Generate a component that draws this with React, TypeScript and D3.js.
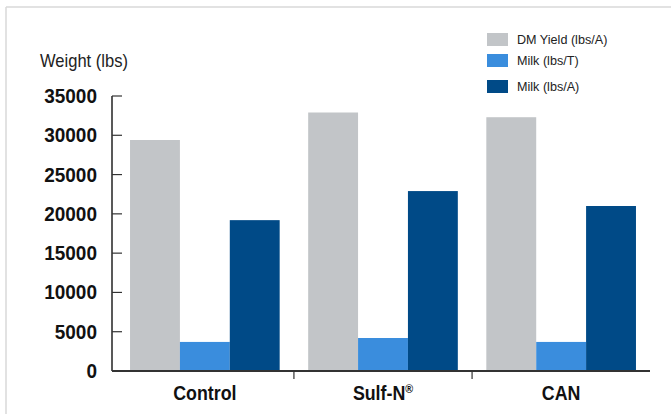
import React from "react";
import * as d3 from "d3";

const categories = ["Control", "Sulf-N®", "CAN"];
const seriesNames = ["DM Yield (lbs/A)", "Milk (lbs/T)", "Milk (lbs/A)"];
const dmYield = [29400, 32900, 32300];
const milkPerTon = [3700, 4200, 3700];
const milkPerAcre = [19200, 22900, 21000];
const yTicks = [0, 5000, 10000, 15000, 20000, 25000, 30000, 35000];
const colors = ["#c2c5c8", "#3a8ddd", "#004a87"];

const W = 671;
const H = 414;
const FONT = "'Liberation Sans Narrow', 'Arial Narrow', 'Liberation Sans', Arial, sans-serif";

export default function App() {
  const series = [dmYield, milkPerTon, milkPerAcre];
  const x0 = d3.scaleBand<string>().domain(categories).range([114, 652]).paddingInner(0.16).paddingOuter(0.09);
  const x1 = d3.scaleBand<number>().domain([0, 1, 2]).range([0, x0.bandwidth()]).padding(0);
  const y = d3.scaleLinear().domain([0, 35000]).range([371, 96]);
  const axisX = 112;
  const axisRight = 650;
  const sepTicks = categories.slice(1).map((c, i) => {
    const prevEnd = (x0(categories[i]) as number) + x0.bandwidth();
    const nextStart = x0(c) as number;
    return (prevEnd + nextStart) / 2;
  });

  return (
    <svg width={W} height={H} style={{ position: "absolute", left: 0, top: 0, display: "block" }}>
      <rect x={0} y={0} width={W} height={H} fill="#ffffff" />
      {/* frame */}
      <line x1={6} y1={7} x2={W} y2={7} stroke="#d9d9d9" strokeWidth={1.5} />
      <line x1={6} y1={7} x2={6} y2={H} stroke="#d9d9d9" strokeWidth={1.5} />

      {/* bars */}
      {categories.map((c, ci) => (
        <g key={c} transform={`translate(${x0(c)},0)`}>
          {series.map((s, si) => (
            <rect
              key={si}
              x={x1(si) as number}
              y={y(s[ci])}
              width={x1.bandwidth()}
              height={y(0) - y(s[ci])}
              fill={colors[si]}
            />
          ))}
        </g>
      ))}

      {/* y axis */}
      <line x1={axisX} y1={y(35000)} x2={axisX} y2={y(0)} stroke="#222" strokeWidth={1.5} />
      {yTicks.map((t) => (
        <g key={t}>
          {t > 0 && <line x1={axisX} x2={axisX + 10} y1={y(t)} y2={y(t)} stroke="#333" strokeWidth={1.2} />}
          <text
            transform={`translate(97,${y(t) + 7}) scale(0.95,1)`}
            textAnchor="end"
            fontFamily={FONT}
            fontWeight="bold"
            fontSize={20}
            fill="#111"
          >
            {t}
          </text>
        </g>
      ))}
      <text transform="translate(40,67) scale(0.92,1)" fontFamily={FONT} fontSize={18} fill="#222">
        Weight (lbs)
      </text>

      {/* x axis */}
      <line x1={axisX} y1={y(0)} x2={axisRight} y2={y(0)} stroke="#333" strokeWidth={2} />
      {sepTicks.map((t, i) => (
        <line key={i} x1={t} x2={t} y1={y(0)} y2={y(0) + 8} stroke="#333" strokeWidth={1.2} />
      ))}
      {categories.map((c) => {
        const cx = (x0(c) as number) + x0.bandwidth() / 2;
        const isSulf = c.endsWith("®");
        return (
          <text
            key={c}
            transform={`translate(${cx},400) scale(0.89,1)`}
            textAnchor="middle"
            fontFamily={FONT}
            fontWeight="bold"
            fontSize={20}
            fill="#111"
          >
            {isSulf ? (
              <>
                {c.slice(0, -1)}
                <tspan fontSize={12} dy={-7}>®</tspan>
              </>
            ) : (
              c
            )}
          </text>
        );
      })}

      {/* legend */}
      {seriesNames.map((n, i) => {
        const ly = [33, 54, 80][i];
        return (
          <g key={n}>
            <rect x={487} y={ly} width={21} height={13} fill={colors[i]} />
            <text transform={`translate(517,${ly + 11}) scale(0.97,1)`} fontFamily={FONT} fontSize={13} fill="#222">
              {n}
            </text>
          </g>
        );
      })}
    </svg>
  );
}
